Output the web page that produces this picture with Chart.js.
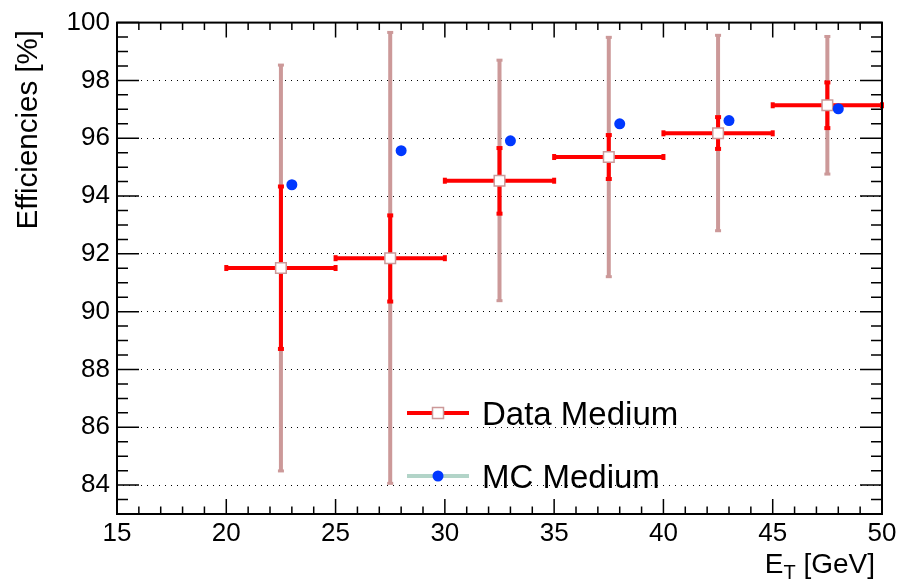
<!DOCTYPE html>
<html>
<head>
<meta charset="utf-8">
<script src="https://cdn.jsdelivr.net/npm/chart.js@4.4.0/dist/chart.umd.min.js"></script>
<style>
  html, body { margin: 0; padding: 0; background: #fff; }
  #wrap { width: 904px; height: 585px; }
</style>
</head>
<body>
<div id="wrap"><canvas id="chart" width="904" height="585"></canvas></div>
<script>
// bins in E_T [GeV]
const binCenters = [22.5, 27.5, 32.5, 37.5, 42.5, 47.5];
const binHalfWidth = [2.5, 2.5, 2.5, 2.5, 2.5, 2.5];

// Data Medium efficiency [%] with stat and total error ranges
const dataEff = [91.51, 91.85, 94.53, 95.35, 96.17, 97.14];
const statLow = [88.71, 90.35, 93.39, 94.59, 95.63, 96.35];
const statHigh = [94.33, 93.33, 95.66, 96.11, 96.73, 97.93];
const totLow = [84.49, 84.06, 90.38, 91.21, 92.80, 94.76];
const totHigh = [98.53, 99.66, 98.70, 99.49, 99.56, 99.52];

// MC Medium efficiency [%]
const mcX = [23, 28, 33, 38, 43, 48];
const mcEff = [94.39, 95.57, 95.91, 96.50, 96.61, 97.02];

// axis tick labels
const xTicks = [15, 20, 25, 30, 35, 40, 45, 50];
const yTicks = [84, 86, 88, 90, 92, 94, 96, 98, 100];

const FONT = '"Liberation Sans", Arial, Helvetica, sans-serif';
const RED = '#ff0000';
const PINK = 'rgb(204,153,153)';
const BLUE = 'rgb(0,56,255)';
const TEAL = 'rgb(178,212,200)';

const errorBars = {
    id: 'errorBars',
    beforeDatasetsDraw(chart) {
        const { ctx, scales: { x, y } } = chart;
        ctx.save();
        ctx.lineCap = 'butt';

        // total uncertainty (pink)
        ctx.strokeStyle = PINK;
        ctx.fillStyle = PINK;
        ctx.lineWidth = 4;
        binCenters.forEach((c, i) => {
            const px = x.getPixelForValue(c);
            const y1 = y.getPixelForValue(totLow[i]);
            const y2 = y.getPixelForValue(totHigh[i]);
            ctx.beginPath();
            ctx.moveTo(px, y1);
            ctx.lineTo(px, y2);
            ctx.stroke();
            ctx.fillRect(px - 3, y1 - 1.5, 6, 3);
            ctx.fillRect(px - 3, y2 - 1.5, 6, 3);
        });

        // stat uncertainty + bin width (red)
        ctx.strokeStyle = RED;
        ctx.fillStyle = RED;
        binCenters.forEach((c, i) => {
            const px = x.getPixelForValue(c);
            const py = y.getPixelForValue(dataEff[i]);
            const y1 = y.getPixelForValue(statLow[i]);
            const y2 = y.getPixelForValue(statHigh[i]);
            const x1 = x.getPixelForValue(c - binHalfWidth[i]);
            const x2 = x.getPixelForValue(c + binHalfWidth[i]);
            ctx.beginPath();
            ctx.moveTo(px, y1);
            ctx.lineTo(px, y2);
            ctx.moveTo(x1, py);
            ctx.lineTo(x2, py);
            ctx.stroke();
            ctx.fillRect(px - 3, y1 - 2, 6, 4);
            ctx.fillRect(px - 3, y2 - 2, 6, 4);
            ctx.fillRect(x1 - 2, py - 3, 4, 6);
            ctx.fillRect(x2 - 2, py - 3, 4, 6);
        });
        ctx.restore();
    }
};

const frameAndLegend = {
    id: 'frameAndLegend',
    afterDraw(chart) {
        const { ctx, chartArea: a, scales: { x, y } } = chart;
        ctx.save();

        // minor / major ticks on all four sides (ROOT style)
        ctx.strokeStyle = '#000';
        ctx.lineWidth = 1.5;
        ctx.beginPath();
        for (let v = Math.ceil(x.min); v <= x.max; v += 1) {
            const px = x.getPixelForValue(v);
            const len = (v % 5 === 0) ? 15 : 7.5;
            ctx.moveTo(px, a.bottom);
            ctx.lineTo(px, a.bottom - len);
            ctx.moveTo(px, a.top);
            ctx.lineTo(px, a.top + len);
        }
        for (let v = y.min; v <= y.max; v += 0.5) {
            const py = y.getPixelForValue(v);
            const len = (v % 2 === 0) ? 22 : 11;
            ctx.moveTo(a.left, py);
            ctx.lineTo(a.left + len, py);
            ctx.moveTo(a.right, py);
            ctx.lineTo(a.right - len, py);
        }
        ctx.stroke();

        // frame
        ctx.lineWidth = 2;
        ctx.strokeRect(a.left, a.top, a.right - a.left, a.bottom - a.top);

        // axis titles
        ctx.fillStyle = '#000';
        ctx.font = '29.5px ' + FONT;
        ctx.textBaseline = 'alphabetic';
        ctx.save();
        ctx.translate(37, 30);
        ctx.rotate(-Math.PI / 2);
        ctx.textAlign = 'right';
        ctx.fillText('Efficiencies [%]', 0, 0);
        ctx.restore();

        const rest = ' [GeV]';
        ctx.font = '28px ' + FONT;
        const wE = ctx.measureText('E').width;
        const wRest = ctx.measureText(rest).width;
        ctx.font = '20px ' + FONT;
        const wT = ctx.measureText('T').width;
        const xEnd = 875;
        const base = 573;
        let cx = xEnd - wRest - wT - wE;
        ctx.textAlign = 'left';
        ctx.font = '28px ' + FONT;
        ctx.fillText('E', cx, base);
        cx += wE;
        ctx.font = '20px ' + FONT;
        ctx.fillText('T', cx, base + 6);
        cx += wT;
        ctx.font = '28px ' + FONT;
        ctx.fillText(rest, cx, base);

        // legend
        const rows = [
            { label: 'Data Medium', line: RED, y: 413, base: 425 },
            { label: 'MC Medium', line: TEAL, y: 476, base: 488 }
        ];
        rows.forEach((r, i) => {
            ctx.strokeStyle = r.line;
            ctx.lineWidth = 4;
            ctx.beginPath();
            ctx.moveTo(407, r.y);
            ctx.lineTo(469, r.y);
            ctx.stroke();
            if (i === 0) {
                ctx.fillStyle = '#fff';
                ctx.fillRect(432.5, r.y - 5.5, 11, 11);
                ctx.strokeStyle = PINK;
                ctx.lineWidth = 1.5;
                ctx.strokeRect(432.5, r.y - 5.5, 11, 11);
            } else {
                ctx.fillStyle = BLUE;
                ctx.beginPath();
                ctx.arc(438, r.y, 5.5, 0, Math.PI * 2);
                ctx.fill();
            }
            ctx.fillStyle = '#000';
            ctx.font = '33px ' + FONT;
            ctx.textAlign = 'left';
            ctx.fillText(r.label, 482, r.base);
        });

        ctx.restore();
    }
};

new Chart(document.getElementById('chart').getContext('2d'), {
    type: 'scatter',
    data: {
        datasets: [
            {
                label: 'Data Medium',
                data: binCenters.map((c, i) => ({ x: c, y: dataEff[i] })),
                pointStyle: 'rect',
                pointRadius: 7.5,
                pointHoverRadius: 7.5,
                backgroundColor: '#fff',
                borderColor: PINK,
                borderWidth: 1.5,
                order: 1
            },
            {
                label: 'MC Medium',
                data: mcX.map((v, i) => ({ x: v, y: mcEff[i] })),
                pointStyle: 'circle',
                pointRadius: 5.5,
                pointHoverRadius: 5.5,
                backgroundColor: BLUE,
                borderWidth: 0,
                order: 0
            }
        ]
    },
    options: {
        responsive: false,
        animation: false,
        layout: { padding: { top: 17, right: 22, left: 0, bottom: 0 } },
        plugins: {
            legend: { display: false },
            tooltip: { enabled: false },
            title: { display: false }
        },
        scales: {
            x: {
                type: 'linear',
                min: 15,
                max: 50,
                afterBuildTicks: s => { s.ticks = xTicks.map(v => ({ value: v })); },
                afterFit: s => { s.height = 71; },
                grid: { display: false, drawTicks: false },
                border: { display: false },
                ticks: {
                    color: '#000',
                    font: { family: FONT, size: 26 },
                    padding: 4,
                    maxRotation: 0,
                    autoSkip: false
                }
            },
            y: {
                type: 'linear',
                min: 83,
                max: 100,
                afterBuildTicks: s => { s.ticks = yTicks.map(v => ({ value: v })); },
                afterFit: s => { s.width = 117; },
                grid: { color: '#000', lineWidth: 1, drawTicks: false },
                border: { display: false, dash: [1, 5] },
                ticks: {
                    color: '#000',
                    font: { family: FONT, size: 26 },
                    padding: 7,
                    autoSkip: false
                }
            }
        }
    },
    plugins: [errorBars, frameAndLegend]
});
</script>
</body>
</html>
